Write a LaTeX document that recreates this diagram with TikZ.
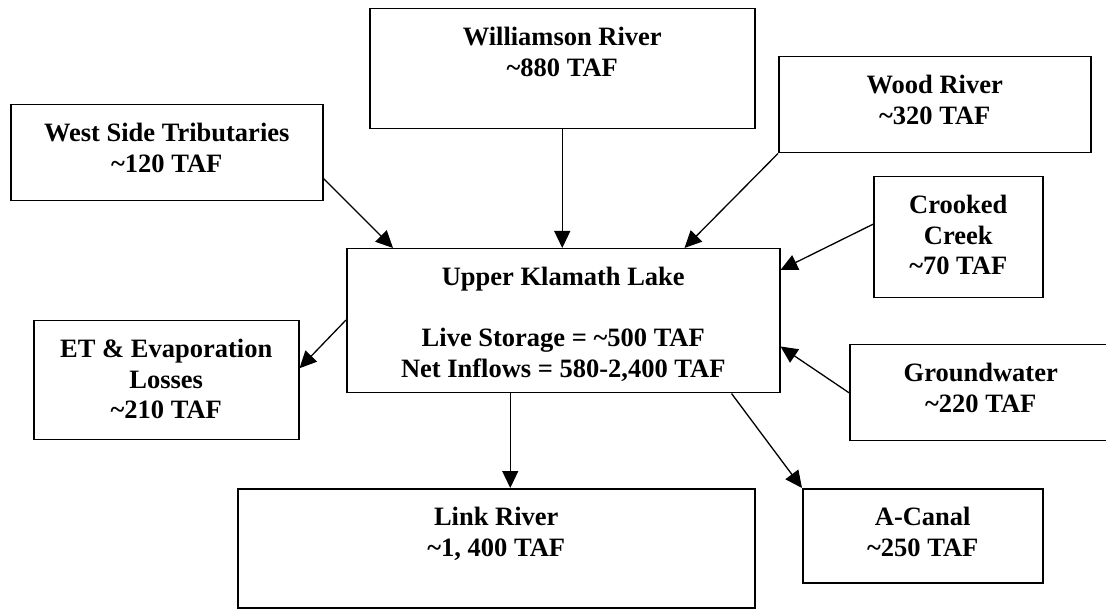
\documentclass[tikz,border=0pt]{standalone}
\usepackage{fontspec}
\setmainfont{Liberation Serif}
\usetikzlibrary{arrows.meta}
\def\ap{\textasciitilde}

\begin{document}
\begin{tikzpicture}[x=1pt,y=-1pt,>={Triangle[length=17pt,width=16pt]},
	box/.style={draw,line width=1.5pt,anchor=north west,inner sep=0pt},
	ttl/.style={anchor=north,inner sep=0pt,yshift=-19pt,align=center,
		font=\fontsize{26.5}{30.5}\selectfont\bfseries},
	flow/.style={->,line width=1.3pt}]
	\useasboundingbox (0,0) rectangle (1106,609);

	\node[box,minimum width=312pt,minimum height=96pt]  (wst)  at (10,104)  {};
	\node[box,minimum width=385pt,minimum height=120pt] (wr)   at (369,8)   {};
	\node[box,minimum width=312pt,minimum height=96pt]  (wood) at (778,56)  {};
	\node[box,minimum width=169pt,minimum height=121pt] (cc)   at (873,176) {};
	\node[box,minimum width=433pt,minimum height=144pt] (ukl)  at (346,248) {};
	\node[box,minimum width=265pt,minimum height=119pt] (et)   at (33,320)  {};
	\node[box,minimum width=262pt,minimum height=96pt]  (gw)   at (849,344) {};
	\node[box,minimum width=517pt,minimum height=119pt] (link) at (237,488) {};
	\node[box,minimum width=240pt,minimum height=94pt]  (ac)   at (802,488) {};

	\node[ttl] (wst-t)  at (wst.north)  {West Side Tributaries\\\ap120 TAF};
	\node[ttl] (wr-t)   at (wr.north)   {Williamson River\\\ap880 TAF};
	\node[ttl] (wood-t) at (wood.north) {Wood River\\\ap320 TAF};
	\node[ttl] (cc-t)   at (cc.north)   {Crooked\\Creek\\\ap70 TAF};
	\node[ttl] (ukl-t)  at (ukl.north)  {Upper Klamath Lake\\[30.5pt]Live Storage = \ap500 TAF\\Net Inflows = 580-2,400 TAF};
	\node[ttl] (et-t)   at (et.north)   {ET \& Evaporation\\Losses\\\ap210 TAF};
	\node[ttl] (gw-t)   at (gw.north)   {Groundwater\\\ap220 TAF};
	\node[ttl] (link-t) at (link.north) {Link River\\\ap1, 400 TAF};
	\node[ttl] (ac-t)   at (ac.north)   {A-Canal\\\ap250 TAF};

	\coordinate (lo) at ([xshift=-53pt]ukl.south);

	\draw[flow] ([yshift=23pt]wst.south east) -- ([xshift=47pt]ukl.north west);
	\draw[flow] (wr.south) -- (wr.south |- ukl.north);
	\draw[flow] (wood.south west) -- ([xshift=-96pt]ukl.north east);
	\draw[flow] ([yshift=13pt]cc.west) -- ([yshift=-22pt]ukl.north east);
	\draw[flow] ([yshift=-72pt]ukl.north west) -- ([yshift=12pt]et.east);
	\draw[flow] (gw.west) -- ([yshift=47pt]ukl.south east);
	\draw[flow] (lo) -- (lo |- link.north);
	\draw[flow] ([xshift=-49pt]ukl.south east) -- (ac.north west);
\end{tikzpicture}
\end{document}
